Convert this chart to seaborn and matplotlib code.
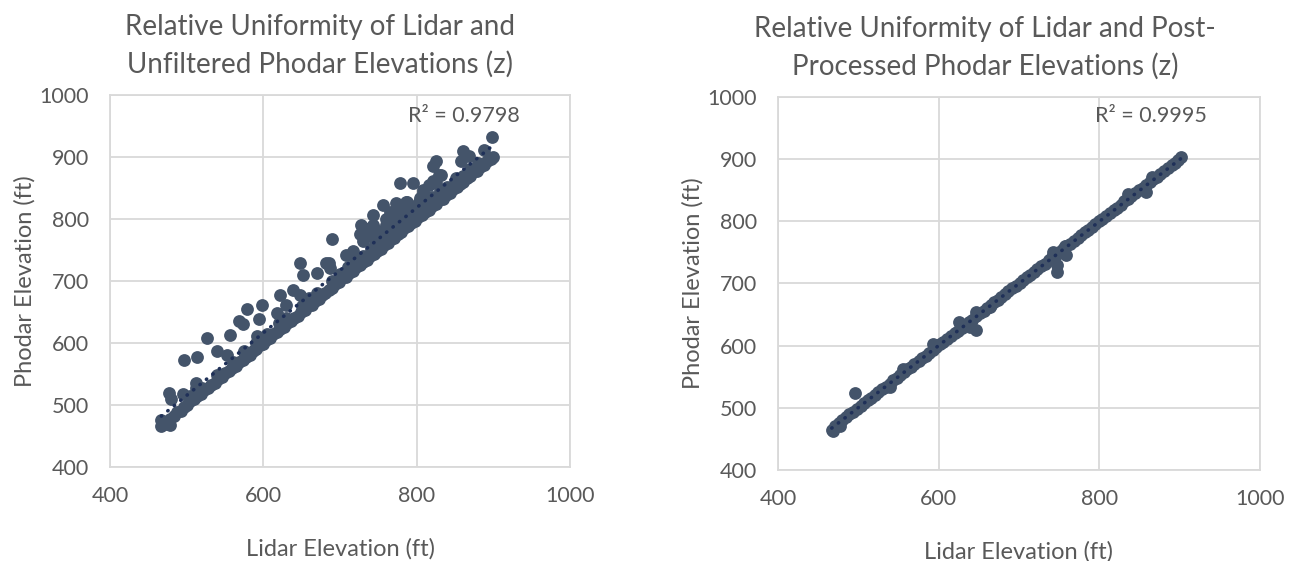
import numpy as np
import matplotlib
matplotlib.use("Agg")
import matplotlib.pyplot as plt
import seaborn as sns

# Lidar vs unfiltered phodar elevations (ft)
unf_lidar = [
    467, 469, 474, 478, 483, 487, 492, 496, 501, 505, 510, 514, 519, 523, 528, 532,
    537, 541, 546, 550, 555, 559, 564, 568, 573, 577, 582, 586, 591, 595, 600, 604,
    609, 613, 618, 622, 627, 631, 636, 640, 645, 649, 654, 658, 663, 667, 672, 676,
    681, 685, 690, 694, 699, 703, 708, 712, 717, 721, 726, 730, 735, 739, 744, 748,
    753, 757, 762, 766, 771, 775, 780, 784, 789, 793, 798, 802, 807, 811, 816, 820,
    825, 829, 834, 838, 843, 847, 852, 856, 861, 865, 870, 874, 879, 883, 888, 892,
    897, 900,
    505, 520, 540, 560, 575, 590, 605, 620, 630, 650, 660, 670, 690, 700, 710, 720,
    730, 740, 745, 750, 755, 760, 765, 770, 775, 780, 785, 790, 795, 800, 810, 820,
    830, 840, 850, 860, 870, 880, 730, 740, 750, 760, 770, 780, 790, 800, 810, 760,
    775, 790,
    898, 888, 860, 868, 858, 825, 821, 829, 778, 795, 808, 821, 756, 743, 728, 726,
    689, 734, 743, 765, 778, 786, 804, 648, 652, 670, 685, 708, 717, 622, 639, 629,
    618, 648, 598, 579, 594, 573, 568, 557, 592, 527, 540, 553, 497, 514, 575, 512,
    512, 477, 480, 495, 467, 478, 773, 788, 739, 682, 687, 808, 816, 803, 812, 851,
    832, 825,
]
unf_phodar = [
    466, 472, 470, 477, 482, 488, 491, 497, 500, 506, 509, 515, 518, 524, 527, 533,
    536, 542, 545, 551, 554, 560, 563, 569, 572, 578, 581, 587, 590, 596, 599, 605,
    608, 614, 617, 623, 626, 632, 635, 641, 644, 650, 653, 659, 662, 668, 671, 677,
    680, 686, 689, 695, 698, 704, 707, 713, 716, 722, 725, 731, 734, 740, 743, 749,
    752, 758, 761, 767, 770, 776, 779, 785, 788, 794, 797, 803, 806, 812, 815, 821,
    824, 830, 833, 839, 842, 848, 851, 857, 860, 866, 869, 875, 878, 884, 887, 893,
    896, 900,
    515, 528, 548, 570, 586, 600, 615, 632, 640, 660, 672, 680, 700, 712, 722, 735,
    740, 752, 760, 765, 770, 775, 780, 785, 790, 795, 800, 805, 810, 815, 825, 835,
    845, 852, 860, 870, 880, 890, 765, 772, 780, 790, 800, 808, 815, 822, 830, 800,
    815, 818,
    933, 912, 909, 901, 893, 893, 885, 871, 858, 858, 847, 861, 823, 807, 791, 775,
    767, 780, 791, 812, 823, 828, 834, 729, 710, 713, 729, 742, 748, 678, 686, 662,
    648, 678, 662, 654, 638, 630, 635, 613, 611, 608, 587, 581, 573, 578, 587, 535,
    527, 519, 509, 517, 476, 468, 826, 828, 785, 729, 721, 842, 855, 828, 818, 866,
    871, 858,
]

# Lidar vs post-processed phodar elevations (ft), right panel
post_lidar = [
    467, 471, 476, 480, 485, 489, 494, 498, 503, 507, 512, 516, 521, 525, 530, 534,
    539, 543, 548, 552, 557, 561, 566, 570, 575, 579, 584, 588, 593, 597, 602, 606,
    611, 615, 620, 624, 629, 633, 638, 642, 647, 651, 656, 660, 665, 669, 674, 678,
    683, 687, 692, 696, 701, 705, 710, 714, 719, 723, 728, 732, 737, 741, 746, 750,
    755, 759, 764, 768, 773, 777, 782, 786, 791, 795, 800, 804, 809, 813, 818, 822,
    827, 831, 836, 840, 845, 849, 854, 858, 863, 867, 872, 876, 881, 885, 890, 894,
    898, 902,
    496, 468, 477, 540, 556, 593, 626, 647, 639, 647, 664, 747, 747, 742, 759, 757,
    858, 866, 836,
]
post_phodar = [
    464, 470, 476, 480, 485, 490, 494, 498, 503, 508, 512, 516, 521, 525, 530, 534,
    539, 544, 548, 552, 557, 562, 566, 570, 575, 580, 584, 588, 593, 598, 602, 606,
    611, 616, 620, 624, 629, 634, 638, 642, 647, 652, 656, 660, 665, 670, 674, 678,
    683, 688, 692, 696, 701, 706, 710, 714, 719, 724, 728, 732, 737, 742, 746, 750,
    755, 760, 764, 768, 773, 778, 782, 786, 791, 796, 800, 804, 809, 814, 818, 822,
    827, 832, 836, 840, 845, 850, 854, 858, 863, 868, 872, 876, 881, 886, 890, 894,
    898, 903,
    524, 462, 470, 534, 563, 603, 638, 625, 630, 654, 662, 718, 729, 750, 745, 761,
    847, 871, 844,
]

titles = [
    "Relative Uniformity of Lidar and\nUnfiltered Phodar Elevations (z)",
    "Relative Uniformity of Lidar and Post-\nProcessed Phodar Elevations (z)",
]
r2_labels = ["R² = 0.9798", "R² = 0.9995"]
ticks = [400, 600, 800, 1000]
yticks = [400, 500, 600, 700, 800, 900, 1000]

sns.set_theme(style="whitegrid")
plt.rcParams["font.family"] = ["Lato", "DejaVu Sans"]

text_col = "#595959"
grid_col = "#D9D9D9"
dot_col = "#44546A"
trend_col = "#1F3058"

fig = plt.figure(figsize=(12.97, 5.61), dpi=100)
axes = [
    fig.add_axes([0.0848, 0.1676, 0.3547, 0.6631]),
    fig.add_axes([0.5998, 0.1622, 0.3716, 0.665]),
]
panels = [(unf_lidar, unf_phodar), (post_lidar, post_phodar)]
title_pos = [(0.2467, 0.918), (0.7595, 0.914)]
r2_pos = [(0.77, 0.944), (0.774, 0.949)]

for i, ax in enumerate(axes):
    xs, ys = panels[i]
    sns.scatterplot(x=xs, y=ys, ax=ax, color=dot_col, s=85, linewidth=0,
                    alpha=1, zorder=3)
    # linear trendline like Excel's
    slope, icpt = np.polyfit(xs, ys, 1)
    tx = np.array([min(xs), max(xs)])
    ax.plot(tx, slope * tx + icpt, color=trend_col, lw=2.6,
            linestyle=(0, (0.1, 2.2)), dash_capstyle="round", zorder=4)

    ax.set_xlim(400, 1000)
    ax.set_ylim(400, 1000)
    ax.set_xticks(ticks)
    ax.set_yticks(yticks)
    ax.grid(True, color=grid_col, lw=1.3)
    for sp in ax.spines.values():
        sp.set_visible(True)
        sp.set_color(grid_col)
        sp.set_linewidth(1.3)
    ax.tick_params(axis="both", length=0, labelsize=15.5, labelcolor=text_col)
    ax.tick_params(axis="x", pad=14)
    ax.tick_params(axis="y", pad=15)
    ax.set_xlabel("Lidar Elevation (ft)", fontsize=17, color=text_col, labelpad=23)
    ax.set_ylabel("Phodar Elevation (ft)", fontsize=17, color=text_col, labelpad=3)
    ax.text(r2_pos[i][0], r2_pos[i][1], r2_labels[i], transform=ax.transAxes,
            ha="center", va="center", fontsize=15.5, color=text_col)
    fig.text(title_pos[i][0], title_pos[i][1], titles[i], ha="center", va="center",
             fontsize=20, color=text_col, linespacing=1.5)

fig.savefig("out.png", dpi=100, facecolor="white")
